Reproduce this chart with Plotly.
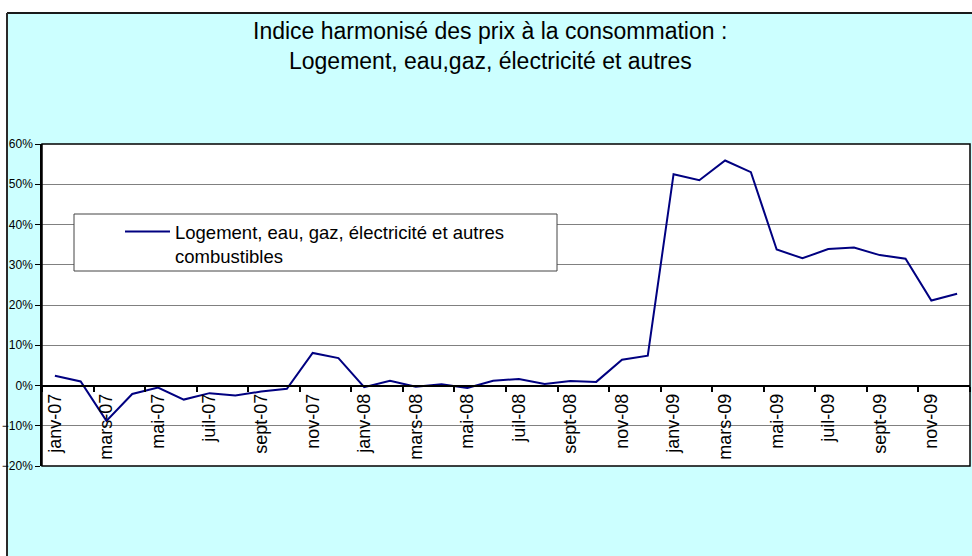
import plotly.graph_objects as go

# Monthly categories, January 2007 to December 2009
months = [
    "janv-07", "févr-07", "mars-07", "avr-07", "mai-07", "juin-07",
    "juil-07", "août-07", "sept-07", "oct-07", "nov-07", "déc-07",
    "janv-08", "févr-08", "mars-08", "avr-08", "mai-08", "juin-08",
    "juil-08", "août-08", "sept-08", "oct-08", "nov-08", "déc-08",
    "janv-09", "févr-09", "mars-09", "avr-09", "mai-09", "juin-09",
    "juil-09", "août-09", "sept-09", "oct-09", "nov-09", "déc-09",
]

# Year-on-year change (fraction)
logement = [
    0.024, 0.010, -0.088, -0.021, -0.005, -0.035,
    -0.019, -0.025, -0.015, -0.008, 0.081, 0.068,
    -0.004, 0.012, -0.003, 0.003, -0.006, 0.012,
    0.016, 0.004, 0.011, 0.009, 0.064, 0.074,
    0.525, 0.510, 0.559, 0.530, 0.338, 0.316,
    0.339, 0.343, 0.324, 0.315, 0.211, 0.228,
]

series_name = "Logement, eau, gaz, électricité et autres<br>combustibles"
title_lines = [
    "Indice harmonisé des prix à la consommation :",
    "Logement, eau,gaz, électricité et autres",
]

W, H = 972, 556
ML, MR, MT, MB = 42, 2, 144, 90
PW, PH = W - ML - MR, H - MT - MB


def px_x(px):
    return (px - ML) / PW


def px_y(py):
    return 1 - (py - MT) / PH


FONT = "Liberation Sans, Arial, sans-serif"

fig = go.Figure()
fig.add_trace(go.Scatter(
    x=months, y=logement, mode="lines", name=series_name,
    line=dict(color="#000080", width=2),
))

y_min, y_max = -0.2, 0.6
zero_pos = (0 - y_min) / (y_max - y_min)

shapes = [
    # white strips outside the chart frame
    dict(type="rect", xref="paper", yref="paper", layer="below",
         x0=px_x(-5), x1=px_x(W + 5), y0=px_y(13), y1=px_y(-5),
         fillcolor="white", line=dict(width=0)),
    dict(type="rect", xref="paper", yref="paper", layer="below",
         x0=px_x(-5), x1=px_x(7), y0=px_y(H + 5), y1=px_y(-5),
         fillcolor="white", line=dict(width=0)),
    # chart frame edges
    dict(type="line", xref="paper", yref="paper", layer="below",
         x0=px_x(7), x1=px_x(W + 5), y0=px_y(13), y1=px_y(13),
         line=dict(color="#1a1a1a", width=2)),
    dict(type="line", xref="paper", yref="paper", layer="below",
         x0=px_x(7), x1=px_x(7), y0=px_y(13), y1=px_y(H + 5),
         line=dict(color="#2a2a2a", width=2)),
    # plot area border
    dict(type="rect", xref="paper", yref="paper", layer="above",
         x0=0, x1=1, y0=0, y1=1,
         line=dict(color="black", width=1.5)),
    # legend box
    dict(type="rect", xref="paper", yref="paper", layer="above",
         x0=px_x(74), x1=px_x(557), y0=px_y(271), y1=px_y(214),
         fillcolor="white", line=dict(color="#444444", width=1)),
]

annotations = [
    dict(text=title_lines[0], xref="paper", yref="paper",
         x=px_x(490), y=px_y(31), showarrow=False,
         xanchor="center", yanchor="middle",
         font=dict(family=FONT, size=23, color="black")),
    dict(text=title_lines[1], xref="paper", yref="paper",
         x=px_x(490), y=px_y(61), showarrow=False,
         xanchor="center", yanchor="middle",
         font=dict(family=FONT, size=23, color="black")),
]

fig.update_layout(
    width=W, height=H,
    margin=dict(l=ML, r=MR, t=MT, b=MB),
    paper_bgcolor="#CCFFFF",
    plot_bgcolor="white",
    font=dict(family=FONT, color="black"),
    showlegend=True,
    legend=dict(
        x=px_x(120), y=px_y(213), xanchor="left", yanchor="top",
        bgcolor="rgba(0,0,0,0)", borderwidth=0,
        font=dict(family=FONT, size=18.5, color="black"),
        valign="top", itemwidth=45,
    ),
    shapes=shapes,
    annotations=annotations,
    xaxis=dict(
        type="category", anchor="free", position=zero_pos,
        tickmode="linear", tick0=0, dtick=2,
        tickson="boundaries", ticks="outside", ticklen=5,
        tickwidth=1.5, tickcolor="black",
        tickangle=-90, tickfont=dict(family=FONT, size=18, color="black"),
        showline=True, linecolor="black", linewidth=2,
        showgrid=False, zeroline=False,
        range=[-0.5, len(months) - 0.5],
    ),
    yaxis=dict(
        range=[y_min, y_max], dtick=0.1, tick0=0, tickformat=".0%",
        ticks="outside", ticklen=5, tickcolor="black",
        tickfont=dict(family=FONT, size=12, color="black"),
        showline=True, linecolor="black", linewidth=1.5,
        showgrid=True, gridcolor="#808080", gridwidth=1,
        zeroline=False,
    ),
)

fig.write_html("out.html")
